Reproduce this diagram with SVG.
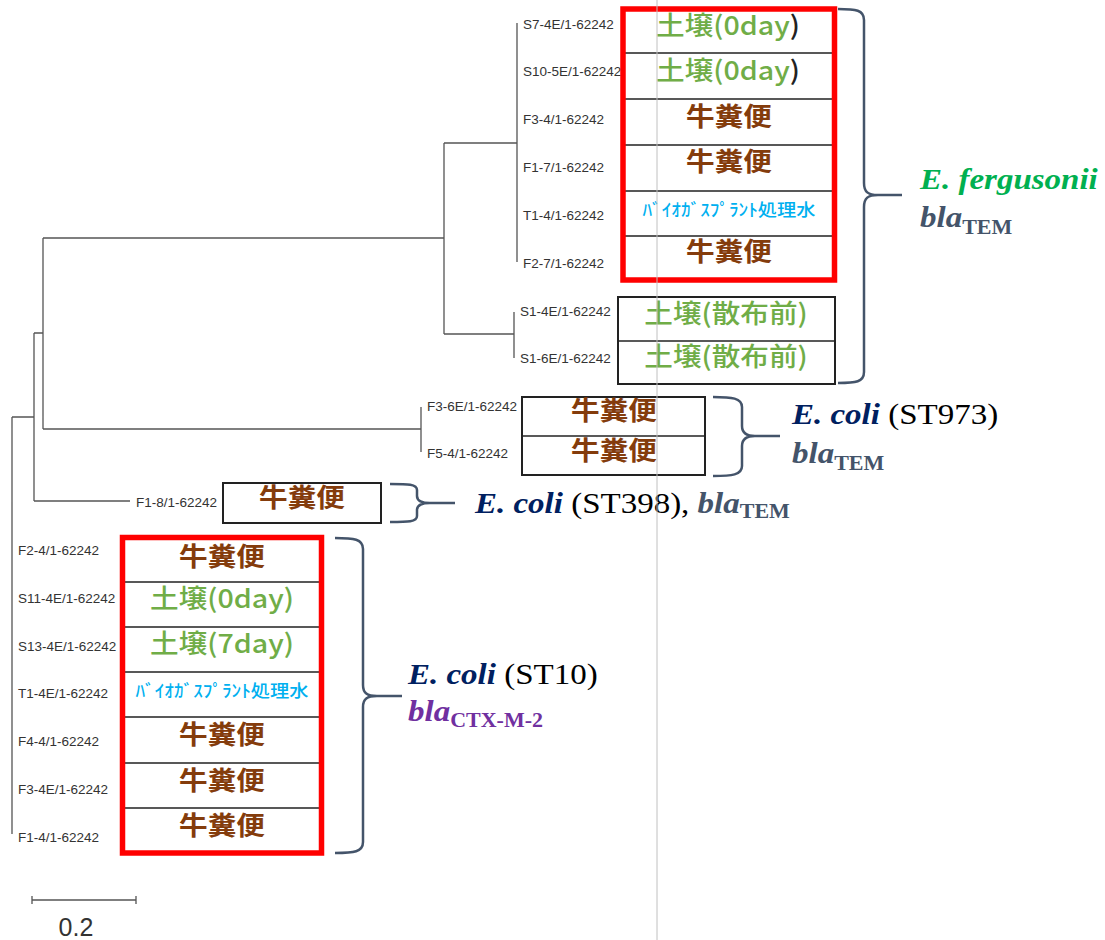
<svg xmlns="http://www.w3.org/2000/svg" width="1105" height="940" viewBox="0 0 1105 940">
<style>
.br{fill:none;stroke:#555;stroke-width:1.3}
.tip{font-family:"Liberation Sans",Arial,sans-serif;font-size:13.5px;fill:#333}
.box{fill:none;stroke:#222;stroke-width:2}
.sep{stroke:#222;stroke-width:1.6}
.red{fill:none;stroke:#ff0000;stroke-width:5.5}
.jp{font-family:"Noto Sans CJK JP","Noto Sans",sans-serif;text-anchor:middle}
.cow{font-size:26px;font-weight:bold;fill:#843c0c}
.soil{font-size:26px;font-weight:500;fill:#70ad47}
.bio{font-size:17.5px;font-weight:500;fill:#00b0f0}
.brace{fill:none;stroke:#44546a;stroke-width:2.5}
.sp{font-family:"Liberation Serif","Times New Roman",serif;font-size:30px}
.bi{font-weight:bold;font-style:italic}
.sub{font-family:"Liberation Serif","Times New Roman",serif;font-size:20px;font-weight:bold}
</style>
<rect width="1105" height="940" fill="#fff"/>
<g id="connectors">
<path class="br" d="M12,417V834M12,417H34M34,333V501M34,501H130M34,333H43M43,238V429M43,238H444M43,429H421M421,407V452M444,143V334M444,143H517M444,334H514M517,23V262M514,312V358"/>
</g>
<g id="scale">
<path class="br" d="M32,900H136M32,896V904M136,896V904"/>
<text x="76" y="936" font-family="Liberation Sans,Arial,sans-serif" font-size="25" fill="#333" text-anchor="middle">0.2</text>
</g>
<g id="tips">
<text class="tip" x="523" y="29">S7-4E/1-62242</text>
<text class="tip" x="523" y="76">S10-5E/1-62242</text>
<text class="tip" x="523" y="124">F3-4/1-62242</text>
<text class="tip" x="523" y="172">F1-7/1-62242</text>
<text class="tip" x="523" y="220">T1-4/1-62242</text>
<text class="tip" x="523" y="268">F2-7/1-62242</text>
<text class="tip" x="520" y="316">S1-4E/1-62242</text>
<text class="tip" x="520" y="363">S1-6E/1-62242</text>
<text class="tip" x="427" y="411">F3-6E/1-62242</text>
<text class="tip" x="427" y="458">F5-4/1-62242</text>
<text class="tip" x="136" y="507">F1-8/1-62242</text>
<text class="tip" x="18" y="555">F2-4/1-62242</text>
<text class="tip" x="18" y="603">S11-4E/1-62242</text>
<text class="tip" x="18" y="651">S13-4E/1-62242</text>
<text class="tip" x="18" y="698">T1-4E/1-62242</text>
<text class="tip" x="18" y="746">F4-4/1-62242</text>
<text class="tip" x="18" y="794">F3-4E/1-62242</text>
<text class="tip" x="18" y="842">F1-4/1-62242</text>
</g>
<g id="box-fergusonii">
<path class="sep" d="M623,53H834M623,99H834M623,145H834M623,191H834M623,236H834"/>
<rect class="red" x="623" y="9" width="211.5" height="271"/>
<text class="jp soil" transform="translate(728,35) scale(1.1,1)">土壌(0day<tspan fill="#222">)</tspan></text>
<text class="jp soil" transform="translate(728,80) scale(1.1,1)">土壌(0day<tspan fill="#222">)</tspan></text>
<text class="jp cow" transform="translate(729,126) scale(1.1,1)">牛糞便</text>
<text class="jp cow" transform="translate(729,171) scale(1.1,1)">牛糞便</text>
<text class="jp bio" transform="translate(729,216) scale(1.1,1)">ﾊﾞｲｵｶﾞｽﾌﾟﾗﾝﾄ処理水</text>
<text class="jp cow" transform="translate(729,261) scale(1.1,1)">牛糞便</text>
</g>
<g id="box-soil">
<rect class="box" x="618" y="297" width="217" height="87"/>
<path class="sep" d="M618,341H835"/>
<text class="jp soil" transform="translate(726,323) scale(1.1,1)">土壌(散布前)</text>
<text class="jp soil" transform="translate(726,366) scale(1.1,1)">土壌(散布前)</text>
</g>
<g id="box-st973">
<rect class="box" x="522" y="397" width="183" height="78"/>
<path class="sep" d="M522,436H705"/>
<text class="jp cow" transform="translate(614,420) scale(1.1,1)">牛糞便</text>
<text class="jp cow" transform="translate(614,460) scale(1.1,1)">牛糞便</text>
</g>
<g id="box-st398">
<rect class="box" x="223" y="483" width="158" height="40"/>
<text class="jp cow" transform="translate(302,507) scale(1.1,1)">牛糞便</text>
</g>
<g id="box-st10">
<path class="sep" d="M122,582H321M122,627H321M122,672H321M122,717H321M122,763H321M122,808H321"/>
<rect class="red" x="122.5" y="537.5" width="199" height="315.5"/>
<text class="jp cow" transform="translate(222,566) scale(1.1,1)">牛糞便</text>
<text class="jp soil" transform="translate(222,608) scale(1.1,1)">土壌(0day)</text>
<text class="jp soil" transform="translate(222,653) scale(1.1,1)">土壌(7day)</text>
<text class="jp bio" transform="translate(222,697) scale(1.1,1)">ﾊﾞｲｵｶﾞｽﾌﾟﾗﾝﾄ処理水</text>
<text class="jp cow" transform="translate(222,744) scale(1.1,1)">牛糞便</text>
<text class="jp cow" transform="translate(222,790) scale(1.1,1)">牛糞便</text>
<text class="jp cow" transform="translate(222,835) scale(1.1,1)">牛糞便</text>
</g>
<g id="braces">
<path class="brace" d="M838,9C856,9 864,10 864,20L864,183C864,192 868,195 878,195L902,195M878,195C868,195 864,198 864,207L864,372C864,382 856,383 838,383"/>
<path class="brace" d="M713,397C732,397 742,398 742,407L742,426C742,433 746,436 755,436L780,436M755,436C746,436 742,439 742,446L742,466C742,475 732,476 713,476"/>
<path class="brace" d="M390,484C408,484 417,484 417,490L417,496C417,501 421,503 430,503L455,503M430,503C421,503 417,505 417,510L417,516C417,522 408,522 390,522"/>
<path class="brace" d="M335,538C354,538 363,539 363,549L363,685C363,693 367,696 377,696L402,696M377,696C367,696 363,699 363,707L363,842C363,852 354,853 335,853"/>
</g>
<g id="label-fergusonii">
<text class="sp bi" fill="#00b050" transform="translate(920,189) scale(1.1,1)">E. fergusonii</text>
<text class="sp bi" fill="#44546a" transform="translate(920,227) scale(1.1,1)">bla<tspan class="sub" dy="7" font-style="normal">TEM</tspan></text>
</g>
<g id="label-st973">
<text class="sp" transform="translate(792,424) scale(1.1,1)"><tspan class="bi" fill="#002060">E. coli</tspan><tspan fill="#000"> (ST973)</tspan></text>
<text class="sp bi" fill="#44546a" transform="translate(792,463) scale(1.1,1)">bla<tspan class="sub" dy="7" font-style="normal">TEM</tspan></text>
</g>
<g id="label-st398">
<text class="sp" transform="translate(475,513) scale(1.1,1)"><tspan class="bi" fill="#002060">E. coli</tspan><tspan fill="#000"> (ST398), </tspan><tspan class="bi" fill="#44546a">bla</tspan><tspan class="sub" fill="#44546a" dy="5">TEM</tspan></text>
</g>
<g id="label-st10">
<text class="sp" transform="translate(408,684) scale(1.1,1)"><tspan class="bi" fill="#002060">E. coli</tspan><tspan fill="#000"> (ST10)</tspan></text>
<text class="sp bi" fill="#7030a0" transform="translate(408,721) scale(1.1,1)">bla<tspan class="sub" dy="6" font-style="normal">CTX-M-2</tspan></text>
</g>
<line x1="657" y1="0" x2="657" y2="940" stroke="#c0c0c0" stroke-width="1"/>
</svg>
